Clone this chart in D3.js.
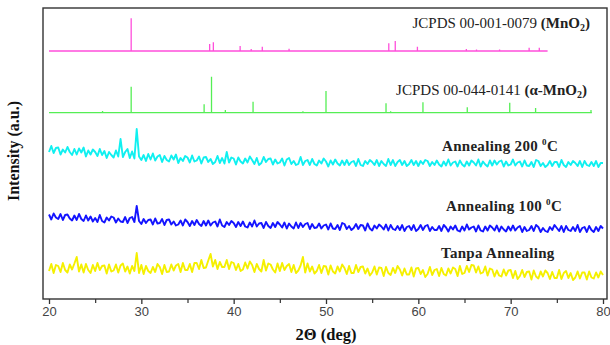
<!DOCTYPE html>
<html><head><meta charset="utf-8">
<script src="https://cdn.jsdelivr.net/npm/d3@7/dist/d3.min.js"></script>
<style>body{margin:0;background:#fff}svg{display:block}</style>
</head><body><svg id="c" width="610" height="345"></svg>
<script>
// ---- data ----
const xTicks = [20, 30, 40, 50, 60, 70, 80];
const xMinorTicks = [25, 35, 45, 55, 65, 75];
const twoTheta = d3.range(0, 241).map(i => 20 + i * 0.25);

const magentaPos = [28.9, 37.4, 37.8, 40.7, 41.9, 43.1, 46.0, 56.8, 57.5, 59.9, 65.2, 66.3, 68.8, 72.0, 73.1];
const magentaInt = [32.7, 7, 8.7, 5, 2, 4.3, 2.3, 7.7, 10, 4.3, 2, 1.5, 1.5, 3.3, 3.3];
const magentaBase = 248, magentaRange = [20, 74];

const greenPos = [25.8, 28.9, 36.8, 37.6, 39.1, 42.1, 47.5, 50.0, 56.5, 57.0, 60.5, 65.3, 69.9, 72.7, 78.7];
const greenInt = [1.7, 26, 8.4, 36, 2.7, 11, 1.5, 21.7, 9.4, 1.5, 10.4, 5.4, 10, 4.7, 2.7];
const greenBase = 186.3, greenRange = [20, 78.8];

const cyan = [
147,153,146,151, 151.5,144.5,149.5,146.5, 152,147,144,150, 144.5,150.5,146.5,151.5,
142.5,148.5,144.5,149.5, 147,143,150,144, 148,141,147,144, 141.5,148.5,142.5,160,
142,147,150,141, 147.5,140.5,170,142.5, 139,144,138,145, 139.5,145.5,138.5,142.5,
144,137,143,139, 137.5,143.5,139.5,144.5, 136,141,138,143, 141.5,136.5,143.5,137.5,
138.5,142.5,135.5,141.5, 142,137,140,135, 137,143,136,141, 135.5,147,136.5,141.5,
140.5,134.5,141.5,137.5, 135.5,140.5,136.5,142.5, 139,135,141,134, 136,142,137,140,
140.5,134.5,139.5,135.5, 136.5,140.5,133.5,139.5, 141,135,138,134, 135,142,134,138,
139,134,140,135, 133.5,138.5,135.5,140.5, 137.5,132.5,138.5,134.5, 139.5,135.5,133.5,138.5,
134,139,134,137, 138,133,140,134, 133,138,135,139, 137,134,139,133,
138,135,133,140, 134,139,133,137, 139,134,138,133, 135,139,134,138,
133,138,135,139, 138,133,137,134, 138.5,134.5,132.5,137.5, 133.5,139.5,133.5,136.5,
137.5,132.5,138.5,134.5, 132.5,137.5,133.5,138.5, 136.5,133.5,139.5,132.5, 137.5,134.5,132.5,138.5,
133.5,138.5,134.5,137.5, 138.5,132.5,137.5,133.5, 134.5,139.5,133.5,136.5, 137.5,132.5,138.5,133.5,
133,137,132,139, 138,133,136,132, 134,138,133,137, 137,132,139,134,
132,137,134,138, 136,133,138,132, 138,134,133,137, 133,138,132,136, 136];

const blue = [
84.5,79.5,85.5,81.5, 80,85,79,84, 84.5,80.5,78.5,83.5, 79,85,80,78,
83.5,78.5,82.5,77.5, 81,77,84,78, 76.5,81.5,78.5,82.5, 81.5,76.5,80.5,77.5,
77,82,76,81, 82,77,93,78, 75,80,76,79, 79.5,74.5,80.5,75.5,
76,80,74,79, 79.5,74.5,77.5,73.5, 74.5,78.5,73.5,79.5, 77,73,78,74,
79,75,73,78, 73.5,78.5,73.5,76.5, 77.5,72.5,79.5,73.5, 72,77,74,78,
76,72,77,73, 77.5,72.5,71.5,76.5, 72.5,78.5,72.5,75.5, 76,71,77,73,
71,76,72,77, 74.5,71.5,76.5,70.5, 75.5,72.5,70.5,76.5, 71,76,72,75,
76,70,75,71, 71.5,75.5,70.5,73.5, 74.5,69.5,75.5,70.5, 70,74,69,76,
75,70,73,69, 71,75,70,74, 73.5,68.5,75.5,70.5, 68.5,73.5,70.5,74.5,
72.5,69.5,74.5,68.5, 74,70,69,73, 69,74,68,72, 73,69,74,68,
70,74,69,73, 74,68,72,69, 69,73,68,74, 71.5,67.5,72.5,69.5,
73.5,68.5,67.5,72.5, 68.5,74.5,69.5,71.5, 72.5,67.5,73.5,68.5, 67.5,72.5,68.5,73.5,
71.5,68.5,73.5,67.5, 72.5,69.5,67.5,72.5, 68.5,73.5,68.5,71.5, 73,67,72,68,
69,73,68,74, 72,67,71,68, 67,72,69,74, 71,68,73,67,
73,69,68,72, 68,74,67,71, 72,67,73,69, 67,72,68,73, 70.5];

const yellow = [
28,35,26,34, 33,27,36,29, 26.5,34.5,29.5,35.5, 42,27.5,34.5,26.5,
35,29,26,34, 28,36,29,33, 33.5,25.5,34.5,27.5, 28.5,34.5,26.5,33.5,
35.5,27.5,32.5,25.5, 33,28,46,26, 34,25,33,28, 26,32,27,35,
32,25,34,27, 27.5,34.5,28.5,33.5, 35,27,36,29, 29,35,27,36,
36,30,39,31, 31.5,38.5,45,32.5, 39,30,37,32, 32,39,30,37,
36,29,35,28, 29.5,36.5,30.5,37.5, 34,27,35,30, 27.5,39,28.5,35.5,
34.5,29.5,26.5,35.5, 28,36,29,33, 35,27,34,26, 28.5,33.5,42,26.5,
35.5,27.5,32.5,25.5, 28,34,26,33, 32.5,24.5,33.5,27.5, 25.5,32.5,27.5,34.5,
31,25,33,26, 26,34,27,32, 32.5,25.5,30.5,23.5, 26.5,32.5,24.5,31.5,
31,23,32,26, 24,31,26,33, 29.5,23.5,30.5,24.5, 24.5,31.5,22.5,30.5,
31,25,29,22, 25,32,24,29, 30,23,31,25, 23.5,30.5,25.5,31.5,
30,23,33,25, 26,33,27,34, 33.5,26.5,32.5,25.5, 26.5,32.5,23.5,30.5,
29.5,22.5,28.5,23.5, 22.5,29.5,23.5,28.5, 29,21,28,20, 23,29,22,27,
27.5,19.5,28.5,22.5, 20.5,27.5,22.5,28.5, 26,20,27,21, 21,29,20,26,
28,21,26,19, 21.5,27.5,20.5,26.5, 26.5,19.5,27.5,21.5, 20.5,26.5,21.5,27.5, 24];

// ---- chart ----
const svg = d3.select('#c');
const x = d3.scaleLinear().domain([20, 80]).range([49, 603]);
const y = d3.scaleLinear().domain([0, 291]).range([299, 8]);
const line = d3.line().x(d => x(d[0])).y(d => y(d[1]));

function stickPoints(pos, ints, base, range) {
  const pts = [[range[0], base]];
  pos.forEach((p, i) => { pts.push([p, base], [p, base + ints[i]], [p, base]); });
  pts.push([range[1], base]);
  return pts;
}

svg.append('path').attr('d', line(stickPoints(magentaPos, magentaInt, magentaBase, magentaRange)))
  .attr('fill', 'none').attr('stroke', '#ff4fdb').attr('stroke-width', 1.3);
svg.append('path').attr('d', line(stickPoints(greenPos, greenInt, greenBase, greenRange)))
  .attr('fill', 'none').attr('stroke', '#55ee55').attr('stroke-width', 1.3);

[[cyan, '#10f0f0'], [blue, '#1414ff'], [yellow, '#f5f000']].forEach(([arr, col]) => {
  svg.append('path').attr('d', line(arr.map((v, i) => [twoTheta[i], v])))
    .attr('fill', 'none').attr('stroke', col).attr('stroke-width', 1.9).attr('stroke-linejoin', 'round');
});

// frame
svg.append('rect').attr('x', 43).attr('y', 8).attr('width', 564).attr('height', 291)
  .attr('fill', 'none').attr('stroke', '#333').attr('stroke-width', 1.4);

// x axis
const gx = svg.append('g').attr('transform', 'translate(0,299)')
  .call(d3.axisBottom(x).tickValues(xTicks).tickSize(5).tickFormat(d3.format('d')));
gx.select('.domain').remove();
gx.selectAll('line').attr('stroke', '#333').attr('stroke-width', 1.3);
gx.selectAll('text').attr('font-family', 'Liberation Sans, Arial, sans-serif').attr('font-size', 13).attr('fill', '#444');
const gm = svg.append('g').attr('transform', 'translate(0,299)')
  .call(d3.axisBottom(x).tickValues(xMinorTicks).tickSize(4).tickFormat(''));
gm.select('.domain').remove();
gm.selectAll('line').attr('stroke', '#333').attr('stroke-width', 1.2);

const serif = 'Liberation Serif, Times New Roman, serif';
// axis titles
svg.append('text').attr('x', 326).attr('y', 340).attr('text-anchor', 'middle')
  .attr('font-family', serif).attr('font-weight', 'bold').attr('font-size', 16.5).attr('fill', '#111')
  .text('2Θ (deg)');
svg.append('text').attr('transform', 'translate(19,151) rotate(-90)').attr('text-anchor', 'middle')
  .attr('font-family', serif).attr('font-weight', 'bold').attr('font-size', 16).attr('fill', '#111')
  .text('Intensity (a.u.)');

// labels
function jcpds(xr, yb, code, phase) {
  const t = svg.append('text').attr('x', xr).attr('y', yb).attr('text-anchor', 'end')
    .attr('font-family', serif).attr('font-size', 15).attr('fill', '#222');
  t.append('tspan').text('JCPDS ' + code + ' ');
  t.append('tspan').attr('font-weight', 'bold').text('(' + phase);
  t.append('tspan').attr('font-weight', 'bold').attr('font-size', 10).attr('dy', 3).text('2');
  t.append('tspan').attr('font-weight', 'bold').attr('dy', -3).text(')');
}
jcpds(590, 28, '00-001-0079', 'MnO');
jcpds(587, 95, '00-044-0141', 'α-MnO');

function anneal(xl, yb, temp) {
  const t = svg.append('text').attr('x', xl).attr('y', yb)
    .attr('font-family', serif).attr('font-weight', 'bold').attr('font-size', 15).attr('fill', '#222')
    .attr('letter-spacing', 0.3);
  t.append('tspan').text('Annealing ' + temp + ' ');
  t.append('tspan').attr('font-size', 9).attr('dy', -6).text('0');
  t.append('tspan').attr('dy', 6).text('C');
}
anneal(442, 151, '200');
anneal(446, 211, '100');
svg.append('text').attr('x', 441).attr('y', 258)
  .attr('font-family', serif).attr('font-weight', 'bold').attr('font-size', 15).attr('fill', '#222')
  .attr('letter-spacing', 0.3).text('Tanpa Annealing');
</script></body></html>
